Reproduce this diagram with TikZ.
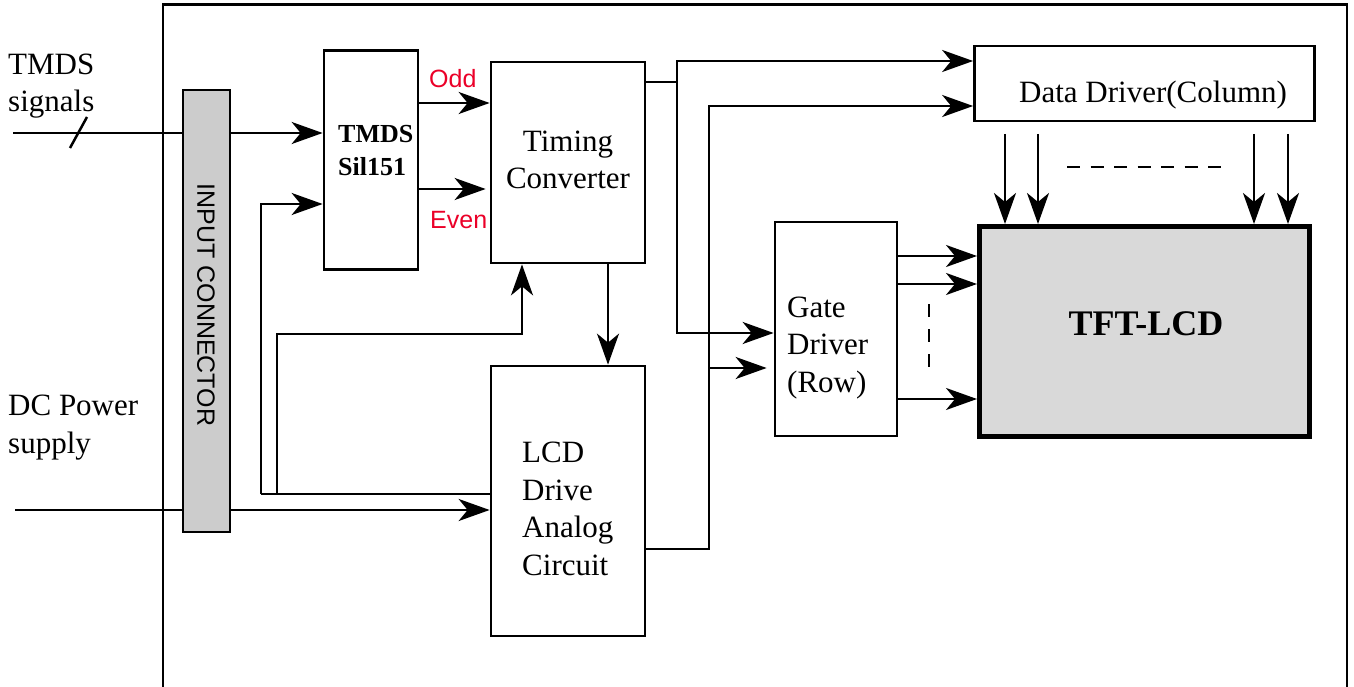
\documentclass[tikz,border=0pt]{standalone}
\usepackage{fontspec}
\setmainfont{Liberation Serif}
\setsansfont{Liberation Sans}
\usetikzlibrary{arrows.meta}
\pgfdeclarelayer{bg}
\pgfsetlayers{bg,main}
\definecolor{lblred}{RGB}{235,0,40}
\definecolor{conngray}{RGB}{204,204,204}
\definecolor{tftgray}{RGB}{217,217,217}
\begin{document}
\begin{tikzpicture}[x=1pt,y=-1pt,
  line/.style={line width=2.5pt},
  arr/.style={line width=2.5pt,-{Stealth[length=31pt,width=22pt,inset=9pt]}},
  blk/.style={draw,line width=2.7pt,inner sep=0pt,minimum width=#1},
  serif/.style={font=\fontsize{31}{37.5}\selectfont,inner sep=0pt,align=left},
  boldtxt/.style={font=\fontsize{26}{33}\selectfont\bfseries,inner sep=0pt,align=left},
  redlbl/.style={font=\sffamily\fontsize{25}{30}\selectfont,text=lblred,inner sep=0pt},
  dashline/.style={line width=2.6pt,dash pattern=on 13pt off #1}
]
\useasboundingbox (0,0) rectangle (1354,687);

% outer frame
\draw[line width=2.8pt] (163,700) -- (163,4.5) -- (1347,4.5) -- (1347,700);

% blocks
\node[blk=47pt,minimum height=442pt,fill=conngray] (conn) at (206.5,311) {};
\node[font=\sffamily\fontsize{25}{30}\selectfont,rotate=-90,inner sep=0pt] (conntxt) at (206,305) {INPUT CONNECTOR};
\node[blk=94pt,minimum height=219pt] (tmds) at (371,160) {};
\node[blk=154pt,minimum height=201pt] (tc) at (568,162.5) {};
\node[blk=154pt,minimum height=270pt] (lcd) at (568,501) {};
\node[blk=340pt,minimum height=75pt] (dd) at (1144.5,83.5) {};
\node[blk=122pt,minimum height=214pt] (gd) at (836,329) {};
\node[draw,line width=5pt,fill=tftgray,inner sep=0pt,minimum width=330pt,minimum height=210pt] (tft) at (1144.5,331.5) {};

% texts (multi-line nodes: base anchor = baseline of last line)
\node[serif,anchor=base west] (tin) at (8,112) {TMDS\\signals};
\node[serif,anchor=base west] (dcin) at (8,453) {DC Power\\supply};
\node[boldtxt,anchor=base west] (tmdstxt) at (338,176) {TMDS\\Sil151};
\node[serif,align=center,anchor=base] (tctxt) at (568,189) {Timing\\Converter};
\node[serif,anchor=base west] (lcdtxt) at (522,575) {LCD\\Drive\\Analog\\Circuit};
\node[serif,anchor=base west] (gdtxt) at (787,392) {Gate\\Driver\\(Row)};
\node[serif,anchor=base west] (ddtxt) at (1019,103) {Data Driver(Column)};
\node[font=\fontsize{36}{40}\selectfont\bfseries,inner sep=0pt,anchor=base] (tfttxt) at (1146,335) {TFT-LCD};
\node[redlbl,anchor=base west] (odd) at (429,88) {Odd};
\node[redlbl,anchor=base west] (even) at (430,228) {Even};

% connectors passing behind the input connector
\begin{pgfonlayer}{bg}
\coordinate (ts) at (13,133);
\draw[arr] (ts) -- (ts -| tmds.west);
\coordinate (dcs) at (15,510);
\draw[arr] (dcs) -- (dcs -| lcd.west);
\end{pgfonlayer}
\draw[line] (70,148) -- (87,117);

% power distribution on the left
\coordinate (j1) at (261,494);
\coordinate (a1) at (261,204);
\draw[arr] (j1) -- (a1) -- (a1 -| tmds.west);
\draw[line] (j1) -- (j1 -| lcd.west);
\coordinate (j2) at (277,494);
\coordinate (k) at (522,334);
\draw[arr] (j2) |- (k) -- (k |- tc.south);

% odd / even
\draw[arr] (tmds.east |- 0,103) -- (tc.west |- 0,103);
\draw[arr] (tmds.east |- 0,189) -- ([xshift=-4pt]tc.west |- 0,189);

% timing converter to LCD drive
\draw[arr] (tc.south -| 608,0) -- (lcd.north -| 608,0);

% timing converter outputs
\coordinate (t1) at (677,82);
\draw[line] (tc.east |- t1) -- (t1);
\draw[arr] (t1) -- (677,61) -- (dd.west |- 0,61);
\draw[arr] (t1) -- (677,333) -- (gd.west |- 0,333);

% LCD drive outputs
\coordinate (l1) at (709,549);
\draw[arr] (lcd.east |- l1) -- (l1) -- (709,106) -- (dd.west |- 0,106);
\draw[arr] (709,368) -- ([xshift=-7pt]gd.west |- 0,368);

% gate driver outputs
\draw[arr] (gd.east |- 0,256) -- (tft.west |- 0,256);
\draw[arr] (gd.east |- 0,284) -- (tft.west |- 0,284);
\draw[arr] (gd.east |- 0,399) -- (tft.west |- 0,399);
\draw[dashline=12pt] (929,304) -- (929,368);

% data driver outputs
\foreach \xx in {1005,1038,1254,1288}
  \draw[arr] (\xx,134) -- (tft.north -| \xx,0);
\draw[dashline=10.5pt] (1067,167) -- (1223,167);
\end{tikzpicture}
\end{document}
